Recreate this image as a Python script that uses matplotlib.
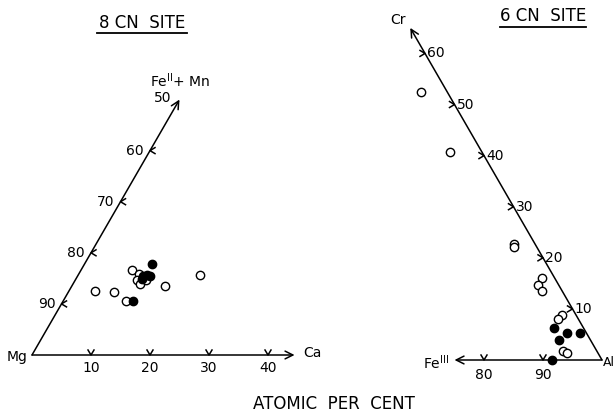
import numpy as np
import matplotlib
matplotlib.use("Agg")
import matplotlib.pyplot as plt

# 8 CN site: Ca and Fe(II)+Mn atomic per cent (rest is Mg)
left_open_ca = [4.5, 7.8, 10.7, 8.7, 10.3, 10.5, 11.4, 11.9, 15.8, 20.7]
left_open_fe = [12.5, 12.3, 10.6, 16.6, 15.8, 14.7, 13.8, 14.7, 13.6, 15.7]
left_filled_ca = [11.9, 11.4, 11.1, 11.6, 12.2, 11.2]
left_filled_fe = [10.5, 17.8, 15.5, 15.7, 15.5, 14.9]

# 6 CN site: Cr and Fe(III) atomic per cent (rest is Al)
right_open_cr = [52.4, 40.8, 22.8, 22.2, 16.0, 14.7, 13.5, 8.8, 8.0, 1.8, 1.3]
right_open_fe = [4.5, 5.4, 3.6, 3.8, 2.1, 3.5, 3.5, 2.3, 3.4, 5.7, 5.3]
right_filled_cr = [6.2, 5.3, 5.3, 3.9, 0.0]
right_filled_fe = [5.0, 3.3, 1.1, 5.3, 8.5]

left_base_ticks = [10, 20, 30, 40]
left_edge_ticks = [90, 80, 70, 60, 50]      # Mg per cent
right_edge_ticks = [10, 20, 30, 40, 50, 60]  # Cr per cent
right_base_ticks = [80, 90]                  # Al per cent

S = 590.0          # pixels for 100 %
H = np.sqrt(3) / 2
LX, LY = 32, 355   # Mg corner
RX, RY = 602, 360  # Al corner


def left_xy(ca, fe):
    ca = np.asarray(ca) / 100.0
    fe = np.asarray(fe) / 100.0
    return LX + S * (ca + fe / 2), LY - S * H * fe


def right_xy(cr, fe):
    cr = np.asarray(cr) / 100.0
    fe = np.asarray(fe) / 100.0
    return RX - S * (fe + cr / 2), RY - S * H * cr


fig = plt.figure(figsize=(6.16, 4.13), dpi=100)
ax = fig.add_axes([0, 0, 1, 1])
ax.set_xlim(0, 616)
ax.set_ylim(413, 0)
ax.axis("off")

lw = 1.1
arrow = dict(arrowstyle="->", lw=lw, color="black", mutation_scale=14, shrinkA=0, shrinkB=0)
fs = 10

# ---- left triangle (8 CN) ----
ax.annotate("", xy=left_xy(44.5, 0), xytext=left_xy(0, 0), arrowprops=arrow)
ax.annotate("", xy=left_xy(0, 50), xytext=left_xy(0, 0), arrowprops=arrow)

for t in left_base_ticks:
    x, y = left_xy(t, 0)
    ax.plot([x - 3, x, x + 3], [y - 5, y, y - 5], color="black", lw=lw)
    ax.text(x, y + 13, str(t), ha="center", va="center", fontsize=fs)

for t in left_edge_ticks:
    x, y = left_xy(0, 100 - t)
    if t != 50:
        ax.plot([x + 5, x, x + 5], [y - 3, y, y + 3], color="black", lw=lw)
        ax.text(x - 6, y, str(t), ha="right", va="center", fontsize=fs)
    else:
        ax.text(x - 8, y - 2, str(t), ha="right", va="center", fontsize=fs)

ax.text(LX - 4, LY + 2, "Mg", ha="right", va="center", fontsize=fs)
ax.text(303, LY - 2, "Ca", ha="left", va="center", fontsize=fs)
ax.text(180, 81, r"Fe$^{\mathrm{II}}$+ Mn", ha="center", va="center", fontsize=fs)

x, y = left_xy(left_open_ca, left_open_fe)
ax.plot(x, y, "o", ms=6, mfc="white", mec="black", mew=1.0, ls="none")
x, y = left_xy(left_filled_ca, left_filled_fe)
ax.plot(x, y, "o", ms=6, mfc="black", mec="black", ls="none")

# ---- right triangle (6 CN) ----
ax.annotate("", xy=right_xy(65, 0), xytext=right_xy(0, 0), arrowprops=arrow)
ax.annotate("", xy=right_xy(0, 25), xytext=right_xy(0, 0), arrowprops=arrow)

for t in right_edge_ticks:
    x, y = right_xy(t, 0)
    ax.plot([x - 5, x, x - 5], [y - 3, y, y + 3], color="black", lw=lw)
    ax.text(x + 2, y, str(t), ha="left", va="center", fontsize=fs)

for t in right_base_ticks:
    x, y = right_xy(0, 100 - t)
    ax.plot([x - 3, x, x + 3], [y - 5, y, y - 5], color="black", lw=lw)
    ax.text(x, y + 15, str(t), ha="center", va="center", fontsize=fs)

ax.text(398, 20, "Cr", ha="center", va="center", fontsize=fs)
ax.text(449, 363, r"Fe$^{\mathrm{III}}$", ha="right", va="center", fontsize=fs)
ax.text(603, 362, "Al", ha="left", va="center", fontsize=9)

x, y = right_xy(right_open_cr, right_open_fe)
ax.plot(x, y, "o", ms=6, mfc="white", mec="black", mew=1.0, ls="none")
x, y = right_xy(right_filled_cr, right_filled_fe)
ax.plot(x, y, "o", ms=6, mfc="black", mec="black", ls="none")

# ---- titles ----
ax.text(142, 23, "8 CN  SITE", ha="center", va="center", fontsize=12)
ax.plot([97, 187], [33, 33], color="black", lw=1.3)
ax.text(543, 16, "6 CN  SITE", ha="center", va="center", fontsize=12)
ax.plot([500, 586], [27, 27], color="black", lw=1.3)
ax.text(334, 404, "ATOMIC  PER  CENT", ha="center", va="center", fontsize=12)

fig.savefig("out.png", dpi=100)
